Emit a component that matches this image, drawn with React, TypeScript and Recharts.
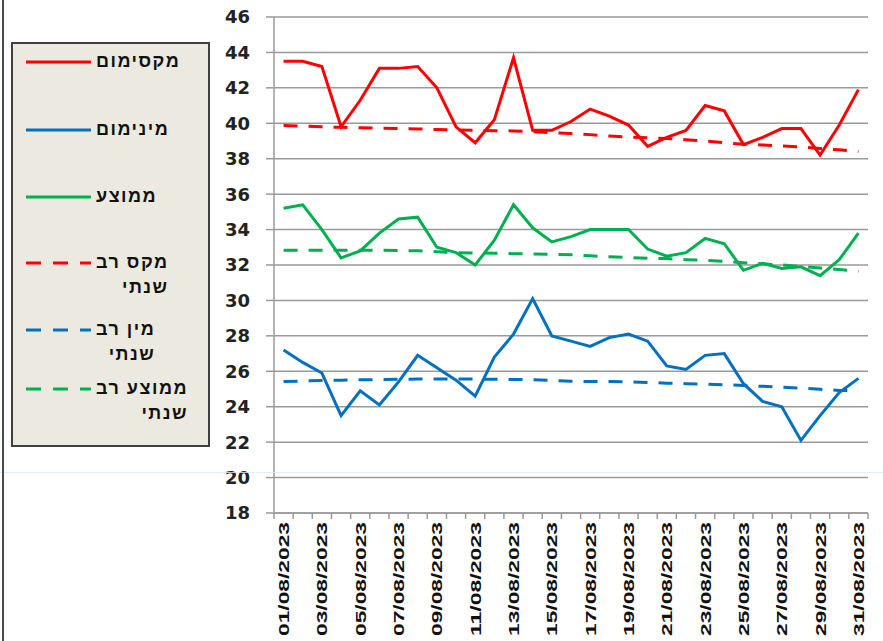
import { LineChart, Line, XAxis, YAxis, CartesianGrid } from 'recharts'

const dates = [
  '01/08/2023', '02/08/2023', '03/08/2023', '04/08/2023', '05/08/2023', '06/08/2023', '07/08/2023', '08/08/2023',
  '09/08/2023', '10/08/2023', '11/08/2023', '12/08/2023', '13/08/2023', '14/08/2023', '15/08/2023', '16/08/2023',
  '17/08/2023', '18/08/2023', '19/08/2023', '20/08/2023', '21/08/2023', '22/08/2023', '23/08/2023', '24/08/2023',
  '25/08/2023', '26/08/2023', '27/08/2023', '28/08/2023', '29/08/2023', '30/08/2023', '31/08/2023',
]

// daily observed
const maxVals = [43.5, 43.5, 43.2, 39.8, 41.3, 43.1, 43.1, 43.2, 42.0, 39.8, 38.9, 40.2, 43.7, 39.6, 39.6, 40.1,
  40.8, 40.4, 39.9, 38.7, 39.2, 39.6, 41.0, 40.7, 38.8, 39.2, 39.7, 39.7, 38.2, 39.9, 41.9]
const minVals = [27.2, 26.5, 25.9, 23.5, 24.9, 24.1, 25.4, 26.9, 26.2, 25.5, 24.6, 26.8, 28.1, 30.1, 28.0, 27.7,
  27.4, 27.9, 28.1, 27.7, 26.3, 26.1, 26.9, 27.0, 25.3, 24.3, 24.0, 22.1, 23.5, 24.8, 25.6]
const avgVals = [35.2, 35.4, 34.0, 32.4, 32.8, 33.8, 34.6, 34.7, 33.0, 32.7, 32.0, 33.4, 35.4, 34.1, 33.3, 33.6,
  34.0, 34.0, 34.0, 32.9, 32.5, 32.7, 33.5, 33.2, 31.7, 32.1, 31.8, 31.9, 31.4, 32.3, 33.8]

// multi-year normals
const maxClim = [39.88, 39.84, 39.8, 39.77, 39.75, 39.73, 39.71, 39.68, 39.65, 39.62, 39.6, 39.58, 39.57, 39.52,
  39.47, 39.42, 39.36, 39.28, 39.22, 39.18, 39.14, 39.07, 39.0, 38.9, 38.82, 38.77, 38.72, 38.66, 38.58, 38.5, 38.4]
const minClim = [25.42, 25.45, 25.48, 25.5, 25.52, 25.53, 25.55, 25.56, 25.56, 25.56, 25.56, 25.55, 25.54, 25.52,
  25.48, 25.44, 25.42, 25.42, 25.4, 25.37, 25.33, 25.3, 25.27, 25.24, 25.2, 25.15, 25.1, 25.05, 24.98, 24.92, 24.9]
const avgClim = [32.83, 32.83, 32.83, 32.83, 32.83, 32.83, 32.82, 32.8, 32.75, 32.7, 32.68, 32.66, 32.64, 32.62,
  32.6, 32.58, 32.52, 32.46, 32.42, 32.38, 32.36, 32.3, 32.26, 32.2, 32.13, 32.07, 32.0, 31.92, 31.83, 31.74, 31.65]

const yTicks = [18, 20, 22, 24, 26, 28, 30, 32, 34, 36, 38, 40, 42, 44, 46]

const RED = '#FF0000'
const BLUE = '#0070C0'
const GREEN = '#00B050'
const DASH = '14 11'

const data = dates.map((d, i) => ({
  day: i + 1,
  label: d,
  max: maxVals[i],
  min: minVals[i],
  avg: avgVals[i],
  maxClim: maxClim[i],
  minClim: minClim[i],
  avgClim: avgClim[i],
}))

// label every other day, plus small marks on category boundaries
const labelDays = data.filter((r) => r.day % 2 === 1).map((r) => r.day)
const boundaries = [...data.map((r) => r.day - 0.5), data.length + 0.5]
const xTicks = [...boundaries, ...labelDays].sort((a, b) => a - b)

const XTick = (props: any) => {
  const { x, y, payload } = props
  const v = payload.value
  if (!Number.isInteger(v)) {
    return <line x1={x} x2={x} y1={y} y2={y + 6} stroke="#9a9a9a" strokeWidth={1.5} />
  }
  const ty = y + 9
  return (
    <text x={x} y={ty} transform={`rotate(-90, ${x}, ${ty})`} textAnchor="end" dominantBaseline="central"
      textLength={114} lengthAdjust="spacingAndGlyphs"
      fontSize={15} fontWeight="bold" fontFamily="'Liberation Sans', Arial, sans-serif" fill="#111">
      {dates[v - 1]}
    </text>
  )
}

const legendItems = [
  { color: RED, dashed: false, lines: ['מקסימום'], top: 62 },
  { color: BLUE, dashed: false, lines: ['מינימום'], top: 130 },
  { color: GREEN, dashed: false, lines: ['ממוצע'], top: 197 },
  { color: RED, dashed: true, lines: ['מקס רב', 'שנתי'], top: 263 },
  { color: BLUE, dashed: true, lines: ['מין רב', 'שנתי'], top: 330 },
  { color: GREEN, dashed: true, lines: ['ממוצע רב', 'שנתי'], top: 389 },
]

function LegendBox() {
  return (
    <div style={{
      position: 'absolute', left: 11, top: 42, width: 195, height: 401,
      background: '#ECEAE0', border: '2px solid #404040',
    }}>
      {legendItems.map((it, i) => (
        <div key={i} style={{ position: 'absolute', left: 0, top: it.top - 44 - 13, display: 'flex', alignItems: 'flex-start' }}>
          <svg width={80} height={26} style={{ flex: 'none' }}>
            <line x1={13} x2={78} y1={13} y2={13} stroke={it.color} strokeWidth={3}
              strokeDasharray={it.dashed ? '15 12' : undefined} />
          </svg>
          <div style={{
            direction: 'rtl', textAlign: 'right', fontFamily: "'Liberation Sans', Arial, sans-serif",
            fontWeight: 'bold', fontSize: 18, letterSpacing: 1.5, lineHeight: '25px', color: '#111', marginLeft: 3,
          }}>
            {it.lines.map((t, j) => <div key={j}>{t}</div>)}
          </div>
        </div>
      ))}
    </div>
  )
}

export default function App() {
  return (
    <div style={{ position: 'absolute', left: 0, top: 0, width: 883, height: 641, background: '#fff', overflow: 'hidden' }}>
      <LineChart width={883} height={641} data={data} margin={{ top: 17, right: 15, left: 0, bottom: 0 }}>
        <CartesianGrid vertical={false} stroke="#9a9a9a" strokeWidth={1.5} />
        <XAxis dataKey="day" type="number" domain={[0.5, 31.5]} ticks={xTicks} interval={0}
          height={128} tickLine={false} tickSize={0} tickMargin={0} tick={<XTick />}
          axisLine={{ stroke: '#9a9a9a', strokeWidth: 1.5 }} />
        <YAxis type="number" domain={[18, 46]} ticks={yTicks} interval={0} width={274}
          tickSize={8} tickMargin={16}
          tickLine={{ stroke: '#9a9a9a', strokeWidth: 1.5 }} axisLine={{ stroke: '#9a9a9a', strokeWidth: 1.5 }}
          tick={{ fontSize: 18, fontWeight: 'bold', fontFamily: "'DejaVu Sans', sans-serif", fill: '#222' }} />
        <Line type="linear" dataKey="maxClim" stroke={RED} strokeWidth={3} strokeDasharray={DASH} dot={false} isAnimationActive={false} />
        <Line type="linear" dataKey="minClim" stroke={BLUE} strokeWidth={3} strokeDasharray={DASH} dot={false} isAnimationActive={false} />
        <Line type="linear" dataKey="avgClim" stroke={GREEN} strokeWidth={3} strokeDasharray={DASH} dot={false} isAnimationActive={false} />
        <Line type="linear" dataKey="max" stroke={RED} strokeWidth={3} dot={false} isAnimationActive={false} />
        <Line type="linear" dataKey="min" stroke={BLUE} strokeWidth={3} dot={false} isAnimationActive={false} />
        <Line type="linear" dataKey="avg" stroke={GREEN} strokeWidth={3} dot={false} isAnimationActive={false} />
      </LineChart>
      <LegendBox />
      <div style={{ position: 'absolute', left: 0, top: 472, width: 883, height: 1, background: '#dde8f6', opacity: 0.8 }} />
      <div style={{ position: 'absolute', left: 2, top: 0, width: 2, height: 641, background: '#4a4a4a' }} />
    </div>
  )
}
